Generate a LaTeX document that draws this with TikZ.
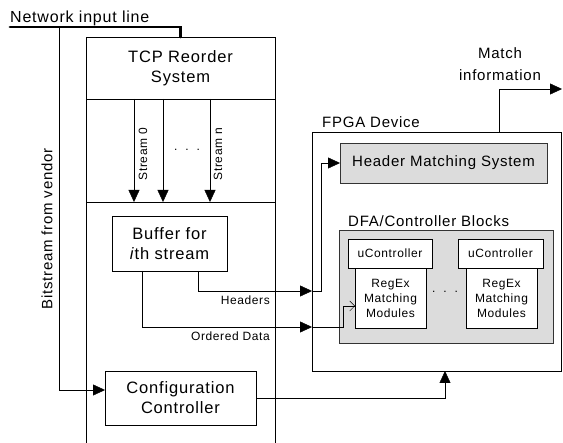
\documentclass[tikz,border=0pt]{standalone}
\usepackage{fontspec}
\setmainfont{Liberation Sans}[LetterSpace=5]
\usetikzlibrary{arrows.meta,positioning}
\definecolor{panel}{HTML}{DCDCDC}
\tikzset{>={Triangle[length=12pt,width=11pt]},line width=1.1pt,
  big/.style={font=\fontsize{16.5}{20}\selectfont},
  mid/.style={font=\fontsize{15}{18}\selectfont},
  small/.style={font=\fontsize{12}{15}\selectfont},
  tiny/.style={font=\fontsize{12}{14}\selectfont},
  block/.style={draw,rectangle,inner sep=0pt,outer sep=0pt,align=center},
  shade/.style={block,fill=panel,draw=black!80},
  lbl/.style={inner sep=0pt}}
\begin{document}
\begin{tikzpicture}[x=1pt,y=-1pt]
\useasboundingbox (0,0) rectangle (563,443);
% TCP column
\node[block,big,minimum width=189,minimum height=62] (tcp) at (180.5,68) {TCP Reorder\\System};
\coordinate (div) at (86,202);
\draw (tcp.south west) -- (tcp.south west |- 0,443) (tcp.south east) -- (tcp.south east |- 0,443) (div) -- (div -| tcp.east);
\coordinate (netin) at (10,27);\coordinate (bs) at (59,27);
\node[lbl,anchor=base west,font=\fontsize{16}{19}\selectfont] (netlbl) at (10,23) {Network input line};
\draw[line width=2.8pt,line cap=round] (netin) -| (tcp.north);
\foreach \x in {134,163,210}{\draw[->] (tcp.south -| \x,0) -- (div -| \x,0);}
\node[tiny,lbl,rotate=90] (s0) at (143,154) {Stream 0};
\node[tiny,lbl,rotate=90] (sn) at (218,154) {Stream n};
\node[tiny,lbl] (sdots) at (187,150) {.\ \ .\ \ .};
\node[block,big,minimum width=115,minimum height=55] (buf) at (169.5,243.5) {Buffer for\\\textit{i}th stream};
\node[block,big,minimum width=151,minimum height=54] (cfg) at (180.5,398) {Configuration\\Controller};
% FPGA side
\node[block,minimum width=249,minimum height=239] (fpga) at (436.5,251.5) {};
\node[mid,lbl,anchor=base west] (fpgalbl) at ([xshift=10pt,yshift=4pt]fpga.north west) {FPGA Device};
\node[shade,mid,minimum width=207,minimum height=40] (hms) at (443.5,163) {Header Matching System};
\node[shade,minimum width=214,minimum height=113] (dfa) at (446,286.5) {};
\node[mid,lbl,anchor=base west] (dfalbl) at ([xshift=9pt,yshift=3pt]dfa.north west) {DFA/Controller Blocks};
\node[block,fill=white,small,minimum width=84,minimum height=29] (uc1) at (390,253.5) {uController};
\node[block,fill=white,small,minimum width=85,minimum height=29] (uc2) at (500.5,253.5) {uController};
\node[block,fill=white,small,minimum width=71,minimum height=60] (rx1) at (390.5,298) {RegEx\\Matching\\Modules};
\node[block,fill=white,small,minimum width=71,minimum height=60] (rx2) at (501.5,298) {RegEx\\Matching\\Modules};
\node[small,lbl] (rxdots) at (445,292) {.\ \ .\ \ .};
\node[lbl,align=center,font=\fontsize{15}{22}\selectfont] (matchlbl) at (500,64) {Match\\information};
\coordinate (mo) at (fpga.north -| 499,0);\coordinate (mi) at (562,89);
\draw[->] (mo) |- (mi);
% links
\coordinate (hd) at (fpga.west |- 0,291);\coordinate (od) at (fpga.west |- 0,327);
\draw[->] ([xshift=28.5pt]buf.south) |- (hd);
\draw[->] (hd) -- ++(9,0) |- (hms.west);
\draw[->] ([xshift=-27.5pt]buf.south) |- (od);
\draw[-{Straight Barb[length=5pt,width=10pt]}] (od) -- ++(31,0) |- ([yshift=-8pt]rx1.west);
\node[small,lbl,anchor=base east] (hdlbl) at (270,305) {Headers};
\node[small,lbl,anchor=base east] (odlbl) at (270,341) {Ordered Data};
\draw[->] (cfg.east) -| (fpga.south -| 445,0);
\draw[->] (bs) |- ([yshift=8pt]cfg.west);
\node[mid,lbl,rotate=90] (bslbl) at (47,229) {Bitstream from vendor};
\end{tikzpicture}
\end{document}
